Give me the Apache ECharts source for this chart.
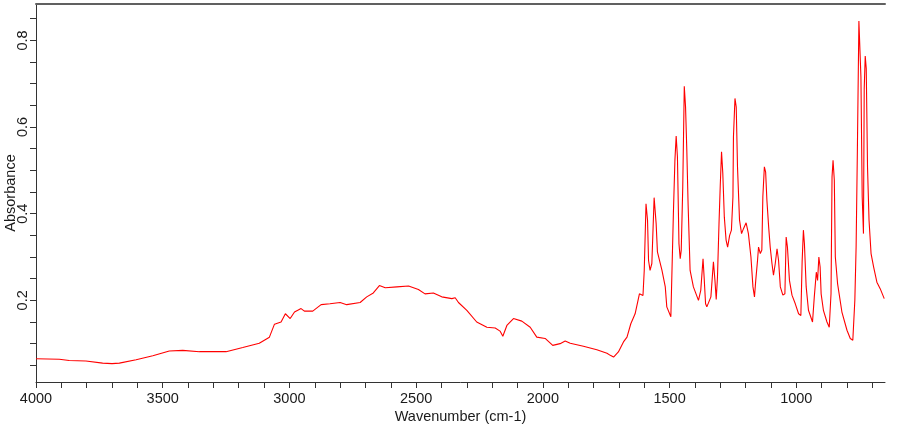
<!DOCTYPE html>
<html>
<head>
<meta charset="utf-8">
<script src="https://cdn.jsdelivr.net/npm/echarts@6/dist/echarts.min.js"></script>
<style>
  html, body { margin: 0; padding: 0; background: #fff; }
  #chart { width: 900px; height: 425px; }
</style>
</head>
<body>
<div id="chart"></div>
<script>
// wavenumber (cm-1)
const wavenumbers = [
  4000, 3908, 3869, 3803, 3737, 3700, 3671, 3605, 3539, 3474, 3421, 3355, 3250, 3184, 3119,
  3079, 3059, 3033, 3016, 2997, 2980, 2954, 2941, 2908, 2875, 2840, 2800, 2774, 2721, 2695,
  2669, 2645, 2622, 2576, 2530, 2491, 2465, 2432, 2399, 2359, 2346, 2333, 2300, 2261, 2221,
  2188, 2169, 2158, 2142, 2116, 2083, 2050, 2024, 1991, 1961, 1932, 1912, 1892, 1840, 1787,
  1747, 1734, 1721, 1715, 1702, 1682, 1668, 1653, 1636, 1619, 1605, 1600, 1593, 1587, 1583,
  1577, 1570, 1561, 1553, 1548, 1530, 1517, 1511, 1495, 1485, 1479, 1474, 1469, 1463, 1458,
  1454, 1448, 1442, 1437, 1432, 1427, 1419, 1406, 1386, 1377, 1368, 1363, 1358, 1353, 1337,
  1327, 1321, 1316, 1311, 1305, 1300, 1295, 1290, 1284, 1277, 1271, 1263, 1256, 1250, 1248,
  1242, 1237, 1232, 1224, 1216, 1208, 1198, 1189, 1179, 1171, 1165, 1160, 1153, 1149, 1142,
  1136, 1132, 1126, 1121, 1116, 1109, 1103, 1096, 1090, 1083, 1076, 1070, 1063, 1053, 1045,
  1040, 1035, 1027, 1017, 1004, 991, 982, 977, 972, 968, 961, 952, 936, 929, 921,
  916, 911, 906, 902, 893, 879, 870, 863, 859, 855, 850, 846, 837, 820, 800,
  787, 777, 769, 764, 759, 753, 748, 745, 740, 735, 732, 728, 724, 719, 713,
  705, 695, 682, 669, 653
];
// absorbance
const absorbance = [
  0.065, 0.064, 0.061, 0.060, 0.055, 0.054, 0.055, 0.063, 0.072, 0.083, 0.0845, 0.0815, 0.0815, 0.091, 0.101,
  0.115, 0.145, 0.150, 0.169, 0.158, 0.173, 0.181, 0.175, 0.175, 0.190, 0.192, 0.195, 0.190, 0.195, 0.208,
  0.217, 0.234, 0.229, 0.231, 0.233, 0.225, 0.215, 0.217, 0.208, 0.204, 0.206, 0.195, 0.177, 0.150, 0.138,
  0.136, 0.129, 0.117, 0.142, 0.158, 0.152, 0.138, 0.115, 0.112, 0.096, 0.100, 0.106, 0.101, 0.094, 0.086,
  0.078, 0.073, 0.069, 0.071, 0.081, 0.104, 0.115, 0.146, 0.169, 0.215, 0.211, 0.269, 0.423, 0.385, 0.292,
  0.269, 0.285, 0.437, 0.377, 0.312, 0.269, 0.231, 0.185, 0.162, 0.400, 0.523, 0.579, 0.531, 0.331, 0.296,
  0.316, 0.462, 0.694, 0.646, 0.546, 0.423, 0.269, 0.231, 0.200, 0.223, 0.296, 0.246, 0.192, 0.185, 0.208,
  0.289, 0.246, 0.202, 0.254, 0.377, 0.466, 0.543, 0.493, 0.392, 0.339, 0.323, 0.350, 0.362, 0.439, 0.577,
  0.666, 0.646, 0.508, 0.385, 0.354, 0.366, 0.379, 0.354, 0.300, 0.231, 0.208, 0.246, 0.292, 0.323, 0.308,
  0.316, 0.439, 0.508, 0.496, 0.431, 0.369, 0.323, 0.285, 0.258, 0.285, 0.319, 0.292, 0.231, 0.212, 0.215,
  0.346, 0.323, 0.246, 0.212, 0.192, 0.169, 0.165, 0.289, 0.362, 0.331, 0.231, 0.177, 0.150, 0.208, 0.265,
  0.246, 0.300, 0.277, 0.215, 0.177, 0.150, 0.138, 0.215, 0.485, 0.523, 0.477, 0.300, 0.238, 0.173, 0.131,
  0.112, 0.108, 0.200, 0.323, 0.546, 0.845, 0.845, 0.716, 0.439, 0.354, 0.689, 0.764, 0.735, 0.508, 0.385,
  0.308, 0.277, 0.242, 0.227, 0.204
];

const xTicks = [700, 800, 900, 1000, 1100, 1200, 1300, 1400, 1500, 1600, 1700, 1800, 1900, 2000,
  2100, 2200, 2300, 2400, 2500, 2600, 2700, 2800, 2900, 3000, 3100, 3200, 3300, 3400, 3500,
  3600, 3700, 3800, 3900, 4000];
const xLabels = [1000, 1500, 2000, 2500, 3000, 3500, 4000];
const yTicks = [0.05, 0.1, 0.15, 0.2, 0.25, 0.3, 0.35, 0.4, 0.45, 0.5, 0.55, 0.6, 0.65, 0.7, 0.75, 0.8, 0.85];
const yLabels = [0.2, 0.4, 0.6, 0.8];

const chart = echarts.init(document.getElementById('chart'));
const font = 'Arial, "Liberation Sans", sans-serif';
const textColor = '#1a1a1a';

const points = wavenumbers.map((w, i) => [w, absorbance[i]]);

chart.setOption({
  backgroundColor: '#ffffff',
  animation: false,
  grid: {
    left: 36,
    right: 15,
    top: 4,
    bottom: 43,
    containLabel: false,
    outerBoundsMode: 'none'
  },
  xAxis: [
    {
      type: 'value',
      inverse: true,
      min: 650,
      max: 4000,
      position: 'bottom',
      name: 'Wavenumber (cm-1)',
      nameLocation: 'middle',
      nameGap: 27,
      nameMoveOverlap: false,
      nameTextStyle: { color: textColor, fontSize: 14.5, fontFamily: font },
      axisLine: { show: true, lineStyle: { color: '#333', width: 1 } },
      axisTick: { show: true, customValues: xTicks, length: 6, lineStyle: { color: '#333' } },
      axisLabel: {
        show: true, customValues: xLabels, margin: 9, color: textColor, fontSize: 14.5, fontFamily: font,
        formatter: v => String(v)
      },
      splitLine: { show: false }
    },
    {
      type: 'value',
      inverse: true,
      min: 650,
      max: 4000,
      position: 'top',
      axisLine: { show: true, lineStyle: { color: '#606060', width: 2 } },
      axisTick: { show: false },
      axisLabel: { show: false },
      splitLine: { show: false }
    }
  ],
  yAxis: {
    type: 'value',
    min: 0.0115,
    max: 0.884,
    name: 'Absorbance',
    nameLocation: 'middle',
    nameGap: 18,
    nameMoveOverlap: false,
    nameTextStyle: { color: textColor, fontSize: 14.5, fontFamily: font },
    axisLine: { show: true, lineStyle: { color: '#333', width: 1 } },
    axisTick: { show: true, customValues: yTicks, length: 6, lineStyle: { color: '#333' } },
    axisLabel: {
      show: true, customValues: yLabels, rotate: 90, margin: 6, color: textColor, fontSize: 14.5, fontFamily: font,
      formatter: v => String(v)
    },
    splitLine: { show: false }
  },
  series: [
    {
      type: 'line',
      data: points,
      showSymbol: false,
      symbol: 'none',
      lineStyle: { color: '#ff0000', width: 1.1 },
      silent: true
    }
  ]
});
</script>
</body>
</html>
